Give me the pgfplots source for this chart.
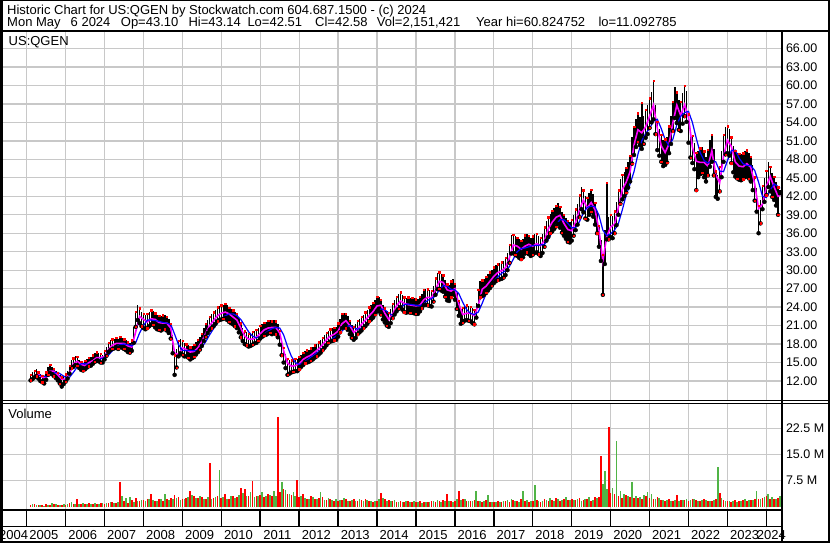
\documentclass[border=0pt]{standalone}
\usepackage{pgfplots}
\pgfplotsset{compat=1.18}
\usepackage{pgfplotstable}
\usepackage{fontspec}
\setmainfont{Liberation Sans}

\definecolor{gridgray}{RGB}{200,200,200}
\definecolor{volgreen}{RGB}{80,180,70}
\definecolor{mablue}{RGB}{0,0,255}
\definecolor{mamag}{RGB}{255,0,255}

% price bars: half-month low/high
\pgfplotstableread{
x lo hi
2005.10 12.1 13.0
2005.15 12.3 13.4
2005.20 12.6 13.7
2005.25 12.8 13.9
2005.30 12.4 13.4
2005.35 12.0 13.1
2005.40 11.8 12.9
2005.45 11.6 12.8
2005.50 12.2 13.4
2005.55 13.0 14.3
2005.60 13.3 14.6
2005.65 13.1 14.3
2005.70 12.8 14.0
2005.75 12.5 13.7
2005.80 12.1 13.3
2005.85 11.6 12.9
2005.90 11.1 12.6
2005.95 11.5 12.8
2006.00 11.9 13.1
2006.05 12.4 13.6
2006.10 13.2 14.5
2006.15 14.1 15.4
2006.20 14.3 15.7
2006.25 14.6 16.0
2006.30 14.5 15.9
2006.35 14.1 15.4
2006.40 13.8 15.1
2006.45 13.7 15.0
2006.50 13.9 15.3
2006.55 14.2 15.5
2006.60 14.4 15.8
2006.65 14.5 15.9
2006.70 14.8 16.2
2006.75 15.1 16.5
2006.80 15.3 16.7
2006.85 15.2 16.6
2006.90 15.0 16.4
2006.95 15.0 16.3
2007.00 15.5 16.9
2007.05 16.1 17.6
2007.10 16.7 18.2
2007.15 17.0 18.6
2007.20 17.2 18.8
2007.25 17.3 18.9
2007.30 17.4 19.0
2007.35 17.2 18.9
2007.40 17.5 19.2
2007.45 17.4 19.0
2007.50 17.2 18.8
2007.55 17.0 18.6
2007.60 16.7 18.3
2007.65 16.6 18.2
2007.70 16.9 18.6
2007.75 18.2 20.8
2007.80 20.8 23.3
2007.85 21.9 24.3
2007.90 21.4 23.8
2007.95 20.9 23.2
2008.00 20.6 22.9
2008.05 20.4 22.7
2008.10 20.6 22.9
2008.15 20.9 23.2
2008.20 21.2 23.5
2008.25 21.1 23.4
2008.30 20.7 23.0
2008.35 20.4 22.7
2008.40 20.3 22.6
2008.45 20.2 22.5
2008.50 20.4 22.7
2008.55 20.4 22.7
2008.60 20.2 22.4
2008.65 19.8 22.0
2008.70 18.9 21.3
2008.75 16.5 19.4
2008.80 13.0 16.2
2008.85 14.2 17.2
2008.90 16.0 18.5
2008.95 16.5 18.8
2009.00 16.3 18.5
2009.05 16.0 18.2
2009.10 16.0 18.0
2009.15 15.8 17.8
2009.20 15.5 17.5
2009.25 15.7 17.7
2009.30 15.9 17.9
2009.35 16.3 18.3
2009.40 16.7 18.7
2009.45 17.1 19.1
2009.50 17.7 19.7
2009.55 18.5 20.6
2009.60 19.2 21.3
2009.65 19.8 21.9
2009.70 20.3 22.4
2009.75 20.6 22.9
2009.80 20.9 23.2
2009.85 21.3 23.6
2009.90 21.7 24.0
2009.95 21.9 24.2
2010.00 22.0 24.3
2010.05 22.1 24.4
2010.10 22.2 24.6
2010.15 21.9 24.3
2010.20 21.6 23.9
2010.25 21.4 23.7
2010.30 21.2 23.5
2010.35 20.9 23.2
2010.40 20.6 22.9
2010.45 19.9 22.2
2010.50 19.1 21.4
2010.55 18.5 20.6
2010.60 18.0 20.1
2010.65 17.8 19.9
2010.70 17.6 19.7
2010.75 17.7 19.8
2010.80 17.9 20.0
2010.85 18.1 20.2
2010.90 18.2 20.3
2010.95 18.5 20.6
2011.00 18.9 21.0
2011.05 19.2 21.3
2011.10 19.4 21.5
2011.15 19.5 21.6
2011.20 19.7 21.8
2011.25 19.8 21.9
2011.30 19.6 21.7
2011.35 19.8 21.9
2011.40 19.6 21.7
2011.45 19.1 21.3
2011.50 17.9 20.2
2011.55 16.2 18.7
2011.60 15.0 17.4
2011.65 14.1 16.4
2011.70 13.0 15.6
2011.75 13.2 15.4
2011.80 13.4 15.4
2011.85 13.5 15.5
2011.90 13.6 15.6
2011.95 13.6 15.6
2012.00 13.9 15.9
2012.05 14.3 16.3
2012.10 14.6 16.6
2012.15 14.9 16.9
2012.20 15.0 17.0
2012.25 15.1 17.1
2012.30 15.3 17.3
2012.35 15.5 17.5
2012.40 15.8 17.8
2012.45 16.0 18.0
2012.50 16.3 18.3
2012.55 16.6 18.6
2012.60 17.0 19.0
2012.65 17.4 19.4
2012.70 17.8 19.8
2012.75 18.2 20.2
2012.80 18.4 20.4
2012.85 18.5 20.6
2012.90 18.6 20.7
2012.95 18.7 20.8
2013.00 19.2 21.4
2013.05 19.9 22.1
2013.10 20.6 22.9
2013.15 20.8 23.1
2013.20 20.6 22.9
2013.25 20.3 22.6
2013.30 19.6 21.8
2013.35 19.0 21.1
2013.40 18.7 20.8
2013.45 19.0 21.2
2013.50 19.6 21.8
2013.55 19.9 22.1
2013.60 20.2 22.4
2013.65 20.6 22.8
2013.70 20.9 23.2
2013.75 21.3 23.6
2013.80 21.7 24.0
2013.85 22.0 24.4
2013.90 22.3 24.7
2013.95 22.8 25.2
2014.00 23.3 25.7
2014.05 23.3 25.7
2014.10 22.8 25.2
2014.15 22.0 24.4
2014.20 21.5 23.8
2014.25 21.0 23.3
2014.30 20.8 23.1
2014.35 21.4 23.7
2014.40 22.2 24.6
2014.45 22.8 25.2
2014.50 23.3 25.7
2014.55 23.7 26.1
2014.60 24.0 26.4
2014.65 23.6 26.0
2014.70 23.2 25.6
2014.75 23.1 25.5
2014.80 23.2 25.6
2014.85 23.1 25.5
2014.90 23.1 25.5
2014.95 23.0 25.4
2015.00 22.9 25.3
2015.05 22.9 25.3
2015.10 23.3 25.7
2015.15 23.8 26.2
2015.20 24.3 26.8
2015.25 24.4 27.0
2015.30 24.3 26.9
2015.35 24.2 26.8
2015.40 24.1 26.7
2015.45 24.9 27.5
2015.50 26.0 28.7
2015.55 26.9 29.6
2015.60 27.0 29.7
2015.65 26.7 29.4
2015.70 26.5 29.2
2015.75 25.7 28.4
2015.80 25.1 27.7
2015.85 25.0 27.6
2015.90 25.6 28.2
2015.95 26.0 28.6
2016.00 25.2 27.8
2016.05 23.7 26.3
2016.10 22.6 25.0
2016.15 21.3 23.7
2016.20 21.5 23.9
2016.25 21.8 24.2
2016.30 21.9 24.3
2016.35 21.8 24.2
2016.40 21.7 24.1
2016.45 21.4 23.8
2016.50 21.2 23.6
2016.55 22.3 24.7
2016.60 24.2 26.8
2016.65 25.6 28.2
2016.70 25.8 28.4
2016.75 26.0 28.6
2016.80 26.3 28.9
2016.85 26.7 29.3
2016.90 27.1 29.7
2016.95 27.5 30.1
2017.00 27.9 30.5
2017.05 28.2 30.8
2017.10 28.4 31.0
2017.15 28.5 31.1
2017.20 28.6 31.3
2017.25 28.8 31.5
2017.30 29.2 32.0
2017.35 30.0 32.8
2017.40 31.2 34.1
2017.45 32.7 35.7
2017.50 32.8 35.8
2017.55 32.5 35.5
2017.60 32.3 35.3
2017.65 32.0 35.0
2017.70 31.8 34.8
2017.75 32.1 35.1
2017.80 32.7 35.7
2017.85 32.9 35.9
2017.90 32.6 35.6
2017.95 32.3 35.3
2018.00 32.5 35.5
2018.05 32.8 35.8
2018.10 32.9 35.9
2018.15 32.6 35.6
2018.20 32.3 35.3
2018.25 32.8 35.8
2018.30 33.8 37.0
2018.35 34.8 38.0
2018.40 35.4 38.6
2018.45 36.0 39.2
2018.50 36.3 39.7
2018.55 36.7 40.1
2018.60 37.1 40.5
2018.65 37.5 40.9
2018.70 36.9 40.3
2018.75 36.1 39.5
2018.80 35.6 39.0
2018.85 35.1 38.5
2018.90 34.6 38.0
2018.95 34.5 37.9
2019.00 34.8 38.2
2019.05 35.6 39.0
2019.10 36.5 39.9
2019.15 37.4 40.8
2019.20 38.6 42.2
2019.25 39.9 43.5
2019.30 39.4 43.0
2019.35 38.4 42.0
2019.40 38.2 41.8
2019.45 39.0 42.6
2019.50 39.5 43.1
2019.55 38.7 42.3
2019.60 37.4 41.0
2019.65 36.0 39.6
2019.70 33.8 37.2
2019.75 31.5 34.9
2019.80 26.0 32.5
2019.85 31.0 36.5
2019.90 35.0 44.2
2019.95 35.0 38.6
2020.00 35.4 39.0
2020.05 35.2 38.8
2020.10 36.0 39.6
2020.15 37.3 41.1
2020.20 39.0 43.0
2020.25 40.8 44.8
2020.30 41.5 45.5
2020.35 42.0 46.0
2020.40 42.6 46.6
2020.45 43.4 47.6
2020.50 44.4 48.6
2020.55 47.3 51.7
2020.60 48.7 53.3
2020.65 50.0 54.6
2020.70 50.9 55.5
2020.75 50.3 54.9
2020.80 49.7 57.2
2020.85 50.5 55.1
2020.90 51.5 56.1
2020.95 52.1 56.9
2021.00 53.1 57.9
2021.05 54.0 59.0
2021.10 54.5 60.8
2021.15 52.1 56.9
2021.20 49.5 54.1
2021.25 48.6 53.0
2021.30 47.6 52.0
2021.35 46.9 51.1
2021.40 47.1 51.3
2021.45 47.5 51.7
2021.50 49.0 53.4
2021.55 50.5 55.1
2021.60 52.6 57.4
2021.65 54.7 59.7
2021.70 53.9 58.9
2021.75 52.8 57.6
2021.80 52.6 57.4
2021.85 53.8 58.8
2021.90 55.0 60.0
2021.95 54.1 59.1
2022.00 50.7 55.3
2022.05 48.3 52.7
2022.10 47.4 51.8
2022.15 46.4 50.6
2022.20 43.0 49.1
2022.25 45.1 49.3
2022.30 45.6 49.8
2022.35 45.8 50.0
2022.40 45.1 49.3
2022.45 44.4 48.4
2022.50 45.4 49.6
2022.55 46.8 51.2
2022.60 47.6 52.0
2022.65 45.4 49.6
2022.70 41.9 46.1
2022.75 41.6 45.4
2022.80 42.8 46.8
2022.85 45.1 49.3
2022.90 47.6 52.0
2022.95 48.8 53.2
2023.00 49.0 53.4
2023.05 48.6 53.0
2023.10 47.4 51.6
2023.15 45.9 50.1
2023.20 45.2 49.4
2023.25 44.9 49.1
2023.30 44.7 48.9
2023.35 44.6 48.8
2023.40 44.8 49.0
2023.45 45.1 49.3
2023.50 45.3 49.5
2023.55 44.9 49.1
2023.60 44.4 48.4
2023.65 43.0 47.0
2023.70 41.3 45.1
2023.75 39.5 43.3
2023.80 36.0 40.5
2023.85 37.6 41.4
2023.90 39.9 43.7
2023.95 41.1 44.9
2024.00 42.2 46.2
2024.05 43.5 47.5
2024.10 42.8 46.8
2024.15 41.9 45.7
2024.20 41.4 45.2
2024.25 40.5 44.3
2024.30 39.0 43.5
2024.35 42.5 43.1
}\pricetab

% short moving average (magenta)
\pgfplotstableread{
x y
2005.20 12.9
2005.30 13.1
2005.40 12.6
2005.50 12.5
2005.60 13.6
2005.70 13.6
2005.80 13.0
2005.90 12.3
2006.00 12.3
2006.10 13.3
2006.20 14.8
2006.30 15.2
2006.40 14.7
2006.50 14.5
2006.60 15.0
2006.70 15.3
2006.80 15.8
2006.90 15.8
2007.00 16.0
2007.10 17.1
2007.20 17.8
2007.30 18.1
2007.40 18.1
2007.50 18.1
2007.60 17.7
2007.70 17.5
2007.80 20.0
2007.90 22.5
2008.00 22.0
2008.10 21.6
2008.20 22.1
2008.30 22.0
2008.40 21.5
2008.50 21.4
2008.60 21.4
2008.70 20.6
2008.80 16.5
2008.90 16.3
2009.00 17.4
2009.10 17.1
2009.20 16.7
2009.30 16.8
2009.40 17.4
2009.50 18.4
2009.60 19.8
2009.70 21.0
2009.80 21.8
2009.90 22.6
2010.00 23.0
2010.10 23.2
2010.20 22.9
2010.30 22.4
2010.40 21.9
2010.50 20.6
2010.60 19.3
2010.70 18.8
2010.80 18.8
2010.90 19.1
2011.00 19.7
2011.10 20.3
2011.20 20.6
2011.30 20.7
2011.40 20.7
2011.50 19.8
2011.60 16.9
2011.70 14.9
2011.80 14.4
2011.90 14.5
2012.00 14.8
2012.10 15.5
2012.20 15.9
2012.30 16.2
2012.40 16.7
2012.50 17.2
2012.60 17.9
2012.70 18.7
2012.80 19.3
2012.90 19.6
2013.00 20.1
2013.10 21.3
2013.20 21.8
2013.30 21.0
2013.40 19.9
2013.50 20.4
2013.60 21.2
2013.70 21.9
2013.80 22.6
2013.90 23.3
2014.00 24.2
2014.10 24.3
2014.20 23.0
2014.30 22.0
2014.40 22.9
2014.50 24.2
2014.60 25.0
2014.70 24.6
2014.80 24.4
2014.90 24.3
2015.00 24.2
2015.10 24.3
2015.20 25.2
2015.30 25.6
2015.40 25.5
2015.50 26.8
2015.60 28.2
2015.70 28.0
2015.80 26.8
2015.90 26.6
2016.00 27.0
2016.10 24.5
2016.20 22.8
2016.30 23.0
2016.40 23.0
2016.50 22.6
2016.60 24.3
2016.70 26.9
2016.80 27.4
2016.90 28.2
2017.00 29.0
2017.10 29.6
2017.20 29.9
2017.30 30.4
2017.40 32.0
2017.50 34.1
2017.60 33.9
2017.70 33.4
2017.80 33.9
2017.90 34.2
2018.00 33.9
2018.10 34.3
2018.20 34.0
2018.30 34.8
2018.40 36.7
2018.50 37.8
2018.60 38.6
2018.70 38.9
2018.80 37.6
2018.90 36.6
2019.00 36.4
2019.10 37.8
2019.20 39.8
2019.30 41.4
2019.40 40.1
2019.50 41.0
2019.60 39.8
2019.70 36.5
2019.80 31.5
2019.90 35.5
2020.00 37.0
2020.10 37.5
2020.20 40.2
2020.30 43.1
2020.40 44.3
2020.50 46.0
2020.60 50.3
2020.70 52.8
2020.80 52.3
2020.90 53.3
2021.00 55.0
2021.10 56.8
2021.20 53.0
2021.30 50.2
2021.40 49.1
2021.50 50.5
2021.60 54.0
2021.70 56.8
2021.80 55.1
2021.90 56.9
2022.00 54.8
2022.10 50.0
2022.20 47.7
2022.30 47.5
2022.40 47.5
2022.50 46.9
2022.60 49.4
2022.70 45.5
2022.80 44.2
2022.90 48.5
2023.00 51.1
2023.10 50.1
2023.20 47.6
2023.30 46.9
2023.40 46.8
2023.50 47.3
2023.60 46.7
2023.70 44.0
2023.80 40.0
2023.90 40.7
2024.00 43.6
2024.10 45.2
2024.20 43.5
2024.30 42.0
2024.35 42.2
}\magtab

% long moving average (blue)
\pgfplotstableread{
x y
2005.30 12.9
2005.40 12.9
2005.50 12.7
2005.60 12.9
2005.70 13.3
2005.80 13.4
2005.90 13.0
2006.00 12.6
2006.10 12.6
2006.20 13.4
2006.30 14.3
2006.40 14.8
2006.50 14.8
2006.60 14.7
2006.70 14.9
2006.80 15.3
2006.90 15.6
2007.00 15.8
2007.10 16.2
2007.20 16.9
2007.30 17.5
2007.40 17.9
2007.50 18.0
2007.60 17.9
2007.70 17.7
2007.80 18.2
2007.90 19.8
2008.00 21.0
2008.10 21.9
2008.20 21.9
2008.30 21.8
2008.40 21.7
2008.50 21.5
2008.60 21.4
2008.70 21.2
2008.80 19.6
2008.90 17.9
2009.00 17.0
2009.10 16.9
2009.20 17.0
2009.30 16.9
2009.40 17.0
2009.50 17.5
2009.60 18.4
2009.70 19.5
2009.80 20.5
2009.90 21.4
2010.00 22.1
2010.10 22.6
2010.20 22.9
2010.30 22.9
2010.40 22.6
2010.50 22.0
2010.60 21.0
2010.70 20.0
2010.80 19.3
2010.90 19.0
2011.00 19.2
2011.10 19.6
2011.20 20.1
2011.30 20.5
2011.40 20.7
2011.50 20.6
2011.60 19.5
2011.70 17.6
2011.80 16.0
2011.90 15.0
2012.00 14.7
2012.10 14.9
2012.20 15.4
2012.30 15.9
2012.40 16.3
2012.50 16.8
2012.60 17.3
2012.70 18.0
2012.80 18.6
2012.90 19.1
2013.00 19.5
2013.10 20.1
2013.20 20.8
2013.30 21.0
2013.40 20.7
2013.50 20.4
2013.60 20.6
2013.70 21.1
2013.80 21.8
2013.90 22.4
2014.00 23.1
2014.10 23.7
2014.20 23.6
2014.30 23.0
2014.40 22.7
2014.50 23.1
2014.60 23.9
2014.70 24.4
2014.80 24.5
2014.90 24.4
2015.00 24.3
2015.10 24.2
2015.20 24.6
2015.30 25.1
2015.40 25.4
2015.50 25.8
2015.60 26.8
2015.70 27.5
2015.80 27.4
2015.90 26.9
2016.00 26.8
2016.10 26.2
2016.20 24.8
2016.30 23.6
2016.40 23.0
2016.50 22.8
2016.60 23.2
2016.70 24.6
2016.80 26.2
2016.90 27.3
2017.00 28.2
2017.10 28.9
2017.20 29.5
2017.30 29.9
2017.40 30.6
2017.50 31.8
2017.60 33.0
2017.70 33.5
2017.80 33.6
2017.90 33.8
2018.00 34.0
2018.10 34.0
2018.20 34.1
2018.30 34.2
2018.40 35.0
2018.50 36.3
2018.60 37.4
2018.70 38.2
2018.80 38.2
2018.90 37.6
2019.00 36.9
2019.10 36.9
2019.20 37.9
2019.30 39.3
2019.40 40.2
2019.50 40.4
2019.60 40.3
2019.70 38.9
2019.80 36.5
2019.90 35.6
2020.00 35.9
2020.10 36.5
2020.20 37.6
2020.30 39.8
2020.40 42.2
2020.50 44.0
2020.60 46.0
2020.70 48.8
2020.80 51.0
2020.90 52.2
2021.00 53.0
2021.10 54.2
2021.20 54.5
2021.30 53.0
2021.40 51.2
2021.50 50.2
2021.60 51.3
2021.70 53.6
2021.80 55.0
2021.90 55.6
2022.00 55.8
2022.10 54.0
2022.20 51.4
2022.30 49.1
2022.40 47.8
2022.50 47.4
2022.60 47.8
2022.70 47.6
2022.80 46.1
2022.90 46.0
2023.00 47.8
2023.10 49.4
2023.20 49.5
2023.30 48.2
2023.40 47.3
2023.50 47.0
2023.60 47.0
2023.70 46.2
2023.80 44.3
2023.90 42.0
2024.00 41.8
2024.10 43.0
2024.20 44.0
2024.30 43.6
2024.35 43.3
}\bluetab

\begin{document}
\begin{tikzpicture}[x=1pt,y=1pt,font=\fontsize{13}{15}\selectfont]
\path[use as bounding box] (0,0) rectangle (830,-543);
\fill[white] (0,0) rectangle (830,-543);

\pgfplotsset{
  panel/.style={
    scale only axis, anchor=north west, width=779pt,
    xmin=2004.366, xmax=2024.376,
    axis line style={draw=none}, tick style={draw=none},
    xtick={2005,...,2024}, xticklabels={},
    grid style={color=gridgray, line width=1.3pt},
    /pgf/number format/assume math mode=true,
    tick label style={font=\fontsize{12.5}{14}\selectfont, text=black},
    yticklabel pos=right,
    yticklabel style={anchor=west, xshift=1.5pt},
  }
}

% price panel
\begin{axis}[panel, at={(2pt,-32pt)}, height=368pt,
  ymin=8.914, ymax=68.68,
  xmajorgrids, ymajorgrids,
  ytick={12,15,...,66},
  yticklabels={12.00,15.00,18.00,21.00,24.00,27.00,30.00,33.00,36.00,39.00,42.00,45.00,48.00,51.00,54.00,57.00,60.00,63.00,66.00},
]
\addplot[only marks, mark=none, forget plot,
  error bars/.cd, y dir=plus, y explicit, error mark=none,
  error bar style={black, line width=1.5pt}]
  table[x=x, y=lo, y error plus expr=\thisrow{hi}-\thisrow{lo}] {\pricetab};
\addplot[only marks, mark=square*, mark size=0.7pt, red, each nth point=3]
  table[x=x, y=lo] {\pricetab};
\addplot[only marks, mark=square*, mark size=0.7pt, red, each nth point=2]
  table[x=x, y=hi] {\pricetab};
\addplot[mamag, line width=1.6pt, mark=none] table[x=x, y=y] {\magtab};
\addplot[mablue, line width=1.2pt, mark=none] table[x=x, y=y] {\bluetab};
\end{axis}

% volume panel
\begin{axis}[panel, at={(2pt,-404pt)}, height=105pt,
  ymin=-0.6, ymax=29.5,
  xmajorgrids, ymajorgrids,
  ytick={7.5,15,22.5},
  yticklabels={7.5 M,15.0 M,22.5 M},
]
\addplot[ycomb, volgreen, line width=1.7pt, mark=none] coordinates {
(2005.15,0.9)(2005.25,0.5)(2005.35,0.6)(2005.45,0.4)(2005.55,0.6)(2005.65,1.2)(2005.75,0.7)(2005.85,0.5)(2005.95,0.8)
(2006.05,0.9)(2006.15,1.3)(2006.25,0.8)(2006.35,0.7)(2006.45,1.0)(2006.55,0.8)(2006.65,0.9)(2006.75,1.0)(2006.85,0.7)(2006.95,1.2)
(2007.05,1.0)(2007.15,1.3)(2007.25,1.1)(2007.35,1.4)(2007.45,3.0)(2007.55,2.6)(2007.65,2.7)(2007.75,1.5)(2007.85,1.7)(2007.95,1.9)
(2008.05,1.7)(2008.15,2.3)(2008.25,1.9)(2008.35,1.6)(2008.45,2.2)(2008.55,3.8)(2008.65,2.0)(2008.75,2.4)(2008.85,2.6)(2008.95,2.0)
(2009.05,2.2)(2009.15,2.8)(2009.25,3.4)(2009.35,2.6)(2009.45,3.2)(2009.55,2.2)(2009.65,2.8)(2009.75,2.4)(2009.85,2.9)(2009.95,10.7)
(2010.05,2.8)(2010.15,2.4)(2010.25,3.0)(2010.35,2.6)(2010.45,3.4)(2010.55,4.0)(2010.65,3.2)(2010.75,4.2)(2010.85,2.8)(2010.95,3.0)
(2011.05,4.2)(2011.15,3.0)(2011.25,3.4)(2011.35,4.6)(2011.40,3.2)(2011.55,7.2)(2011.65,4.8)(2011.75,3.6)(2011.85,4.2)(2011.90,3.0)
(2012.05,3.2)(2012.15,2.6)(2012.25,2.4)(2012.35,2.8)(2012.45,2.2)(2012.55,4.2)(2012.65,2.0)(2012.75,2.6)(2012.85,1.9)(2012.95,2.2)
(2013.05,2.0)(2013.15,2.6)(2013.25,1.7)(2013.35,1.9)(2013.45,1.6)(2013.55,2.2)(2013.65,1.8)(2013.75,2.1)(2013.85,1.6)(2013.95,1.8)
(2014.05,2.2)(2014.15,2.6)(2014.25,1.8)(2014.35,1.6)(2014.45,2.0)(2014.55,1.5)(2014.65,1.4)(2014.75,1.7)(2014.85,1.3)(2014.95,1.6)
(2015.05,1.5)(2015.15,1.2)(2015.25,1.4)(2015.35,1.3)(2015.45,1.6)(2015.55,1.9)(2015.65,1.4)(2015.75,1.6)(2015.85,1.8)(2015.95,1.5)
(2016.05,2.4)(2016.15,1.9)(2016.25,2.2)(2016.35,1.7)(2016.45,1.8)(2016.55,4.6)(2016.65,1.6)(2016.75,1.8)(2016.85,3.5)(2016.95,1.5)
(2017.05,1.3)(2017.15,1.5)(2017.25,1.6)(2017.35,1.9)(2017.45,2.4)(2017.55,1.7)(2017.65,1.5)(2017.75,4.6)(2017.85,2.0)(2017.95,1.6)
(2018.05,6.4)(2018.15,1.8)(2018.25,1.6)(2018.35,2.1)(2018.45,2.6)(2018.55,1.7)(2018.65,2.2)(2018.75,1.9)(2018.85,2.8)(2018.95,2.1)
(2019.05,2.0)(2019.15,2.4)(2019.25,1.8)(2019.35,2.2)(2019.45,2.8)(2019.55,2.1)(2019.65,2.5)(2019.80,6.5)(2019.85,10.4)(2019.90,5.0)
(2020.05,5.5)(2020.15,18.8)(2020.25,4.6)(2020.35,3.6)(2020.45,3.2)(2020.55,7.2)(2020.65,3.0)(2020.75,2.8)(2020.85,3.5)(2020.95,4.2)
(2021.05,3.6)(2021.15,2.2)(2021.25,2.6)(2021.35,1.9)(2021.45,2.0)(2021.55,1.8)(2021.65,2.1)(2021.75,1.6)(2021.85,1.9)(2021.95,2.3)
(2022.05,2.0)(2022.15,2.4)(2022.25,1.7)(2022.35,1.9)(2022.45,2.1)(2022.55,1.6)(2022.65,2.0)(2022.75,11.4)(2022.85,2.6)(2022.95,1.8)
(2023.05,1.6)(2023.15,1.8)(2023.25,1.5)(2023.35,1.7)(2023.45,2.2)(2023.55,1.9)(2023.65,2.0)(2023.75,4.5)(2023.85,2.3)(2023.95,2.8)
(2024.05,3.6)(2024.15,2.8)(2024.25,2.4)(2024.35,3.0)
};
\addplot[ycomb, red, line width=1.7pt, mark=none] coordinates {
(2005.10,0.6)(2005.20,0.8)(2005.30,0.5)(2005.40,0.6)(2005.50,0.7)(2005.60,0.5)(2005.70,0.9)(2005.80,0.6)(2005.90,0.5)
(2006.00,0.6)(2006.10,1.2)(2006.20,0.7)(2006.30,2.4)(2006.40,0.9)(2006.50,0.8)(2006.60,1.0)(2006.70,0.7)(2006.80,0.9)(2006.90,1.1)
(2007.00,0.8)(2007.10,1.0)(2007.20,1.4)(2007.30,1.2)(2007.40,7.0)(2007.50,1.6)(2007.60,1.2)(2007.70,2.0)(2007.80,2.6)(2007.90,1.8)
(2008.00,2.0)(2008.10,2.2)(2008.20,3.8)(2008.30,1.8)(2008.40,2.4)(2008.50,1.6)(2008.60,2.2)(2008.70,2.6)(2008.80,3.4)(2008.90,2.8)
(2009.00,2.4)(2009.10,2.6)(2009.20,4.6)(2009.30,3.0)(2009.40,2.6)(2009.50,2.8)(2009.60,2.4)(2009.70,12.5)(2009.80,2.5)(2009.90,3.1)
(2010.00,2.6)(2010.10,3.7)(2010.20,2.4)(2010.30,3.2)(2010.40,2.8)(2010.50,5.4)(2010.60,5.0)(2010.70,3.0)(2010.80,7.3)(2010.90,3.2)
(2011.00,3.4)(2011.10,2.8)(2011.20,3.6)(2011.30,3.2)(2011.45,25.9)(2011.50,4.4)(2011.60,5.0)(2011.70,3.8)(2011.80,3.4)(2011.95,7.8)
(2012.00,2.8)(2012.10,3.6)(2012.20,2.4)(2012.30,3.0)(2012.40,2.2)(2012.50,2.6)(2012.60,2.8)(2012.70,2.0)(2012.80,2.4)(2012.90,1.8)
(2013.00,1.8)(2013.10,2.0)(2013.20,2.4)(2013.30,1.6)(2013.40,2.2)(2013.50,1.6)(2013.60,1.9)(2013.70,2.2)(2013.80,1.7)(2013.90,1.5)
(2014.00,1.6)(2014.10,3.9)(2014.20,2.4)(2014.30,2.0)(2014.40,1.7)(2014.50,1.5)(2014.60,1.8)(2014.70,1.4)(2014.80,1.6)(2014.90,1.5)
(2015.00,1.4)(2015.10,1.6)(2015.20,1.3)(2015.30,1.5)(2015.40,1.7)(2015.50,1.4)(2015.60,1.6)(2015.70,1.9)(2015.80,3.6)(2015.90,1.7)
(2016.00,1.8)(2016.10,4.6)(2016.20,2.2)(2016.30,1.8)(2016.40,1.6)(2016.50,2.0)(2016.60,1.7)(2016.70,1.5)(2016.80,1.9)(2016.90,1.4)
(2017.00,1.4)(2017.10,1.6)(2017.20,1.3)(2017.30,1.8)(2017.40,1.5)(2017.50,2.0)(2017.60,1.7)(2017.70,2.2)(2017.80,1.6)(2017.90,1.4)
(2018.00,1.6)(2018.10,1.9)(2018.20,1.5)(2018.30,2.3)(2018.40,1.7)(2018.50,1.9)(2018.60,2.5)(2018.70,1.8)(2018.80,2.4)(2018.90,2.0)
(2019.00,2.2)(2019.10,1.9)(2019.20,2.6)(2019.30,2.0)(2019.40,2.4)(2019.50,1.8)(2019.60,2.7)(2019.70,2.9)(2019.75,14.6)(2019.95,23.0)
(2020.00,4.0)(2020.10,3.6)(2020.20,3.0)(2020.30,2.6)(2020.40,3.4)(2020.50,2.8)(2020.60,2.5)(2020.70,2.6)(2020.80,2.4)(2020.90,3.2)
(2021.00,2.6)(2021.10,2.4)(2021.20,2.8)(2021.30,2.0)(2021.40,1.8)(2021.50,2.2)(2021.60,1.7)(2021.70,3.4)(2021.80,1.9)(2021.90,2.0)
(2022.00,1.8)(2022.10,2.2)(2022.20,2.0)(2022.30,1.7)(2022.40,2.3)(2022.50,1.8)(2022.60,1.6)(2022.70,2.4)(2022.80,4.0)(2022.90,1.9)
(2023.00,1.7)(2023.10,1.5)(2023.20,1.9)(2023.30,1.6)(2023.40,2.0)(2023.50,1.8)(2023.60,2.1)(2023.70,2.2)(2023.80,2.4)(2023.90,2.6)
(2024.00,3.0)(2024.10,2.4)(2024.20,2.2)(2024.30,2.6)
};
\end{axis}

% year row
\begin{axis}[panel, at={(2pt,-510.8pt)}, height=15.9pt,
  ymin=0, ymax=1, ytick=\empty,
  xmajorgrids, grid style={color=black, line width=1.5pt},
  clip=false,
]
\pgfplotsinvokeforeach{2005,...,2023}{\node[anchor=base] at (axis cs:#1.44,-0.79) {#1};}
\node[anchor=base] at (axis cs:2004.665,-0.79) {2004};
\node[anchor=base] at (axis cs:2024.13,-0.79) {2024};
\end{axis}

% titles and panel captions
\node[anchor=base west, inner sep=0pt] at (7,-14.5) {Historic Chart for US:QGEN by Stockwatch.com 604.687.1500 - (c) 2024};
\node[anchor=base west, inner sep=0pt] at (7,-26.5) {Mon May};
\node[anchor=base west, inner sep=0pt] at (70.5,-26.5) {6 2024};
\node[anchor=base west, inner sep=0pt] at (120.7,-26.5) {Op=43.10};
\node[anchor=base west, inner sep=0pt] at (188.3,-26.5) {Hi=43.14};
\node[anchor=base west, inner sep=0pt] at (247.3,-26.5) {Lo=42.51};
\node[anchor=base west, inner sep=0pt] at (315,-26.5) {Cl=42.58};
\node[anchor=base west, inner sep=0pt] at (376.7,-26.5) {Vol=2,151,421};
\node[anchor=base west, inner sep=0pt] at (476,-26.5) {Year hi=60.824752};
\node[anchor=base west, inner sep=0pt] at (598.3,-26.5) {lo=11.092785};
\node[anchor=base west, inner sep=0pt] at (8.5,-46) {US:QGEN};
\node[anchor=base west, inner sep=0pt] at (8.3,-418) {Volume};

% frame lines
\draw[line width=1pt] (0,-0.5) -- (830,-0.5);
\draw[line width=2pt] (0,-31.2) -- (830,-31.2);
\draw[line width=1pt] (0,-400.7) -- (830,-400.7);
\draw[line width=1pt] (0,-403.3) -- (830,-403.3);
\draw[line width=2pt] (0,-509.8) -- (781.5,-509.8);
\draw[line width=1.5pt] (0,-526.7) -- (781.5,-526.7);
\draw[line width=2pt] (781.5,-31.2) -- (781.5,-543);
\draw[line width=2.6pt] (1.3,0) -- (1.3,-543);
\draw[line width=2pt] (829,0) -- (829,-543);
\draw[line width=1.5pt] (0,-542.2) -- (830,-542.2);
\end{tikzpicture}
\end{document}
